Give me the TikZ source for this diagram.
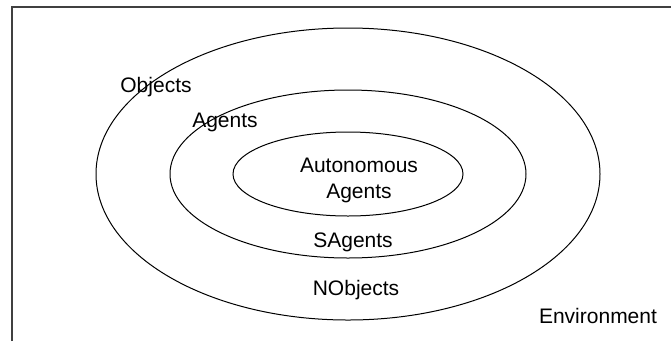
\documentclass[tikz,border=0pt]{standalone}
\usepackage{fontspec}
\setmainfont{Liberation Sans}
\usepackage{tikz}
\tikzset{
	setlabel/.style={font=\fontsize{21}{23}\selectfont, inner sep=0pt, anchor=base, align=center},
	setline/.style={line width=1pt, black}
}

\begin{document}
\begin{tikzpicture}[x=1pt, y=-1pt]
			%%%%% START %%%%%
			
			\useasboundingbox (0, 0) rectangle (671, 341);
			
			\draw[line width=1.3pt, black!75] (12, 341) -- (12, 7) -- (671, 7);
			
			\coordinate (mid) at (348, 174);
			\draw[setline] (mid) ellipse [x radius=252, y radius=146];
			\draw[setline] (mid) ellipse [x radius=178, y radius=84];
			\draw[setline] (mid) ellipse [x radius=115, y radius=42];
			
			\node[setlabel] (objects) at (156, 92) {Objects};
			\node[setlabel] (agents) at (225, 127) {Agents};
			\node[setlabel] (autonomous) at (359, 198) {Autonomous\\[3pt]Agents};
			\node[setlabel] (sagents) at (353, 247) {SAgents};
			\node[setlabel] (nobjects) at (356, 295) {NObjects};
			\node[setlabel] (environment) at (598, 323) {Environment};
			
			%%%%% END %%%%%
		\end{tikzpicture}
\end{document}
